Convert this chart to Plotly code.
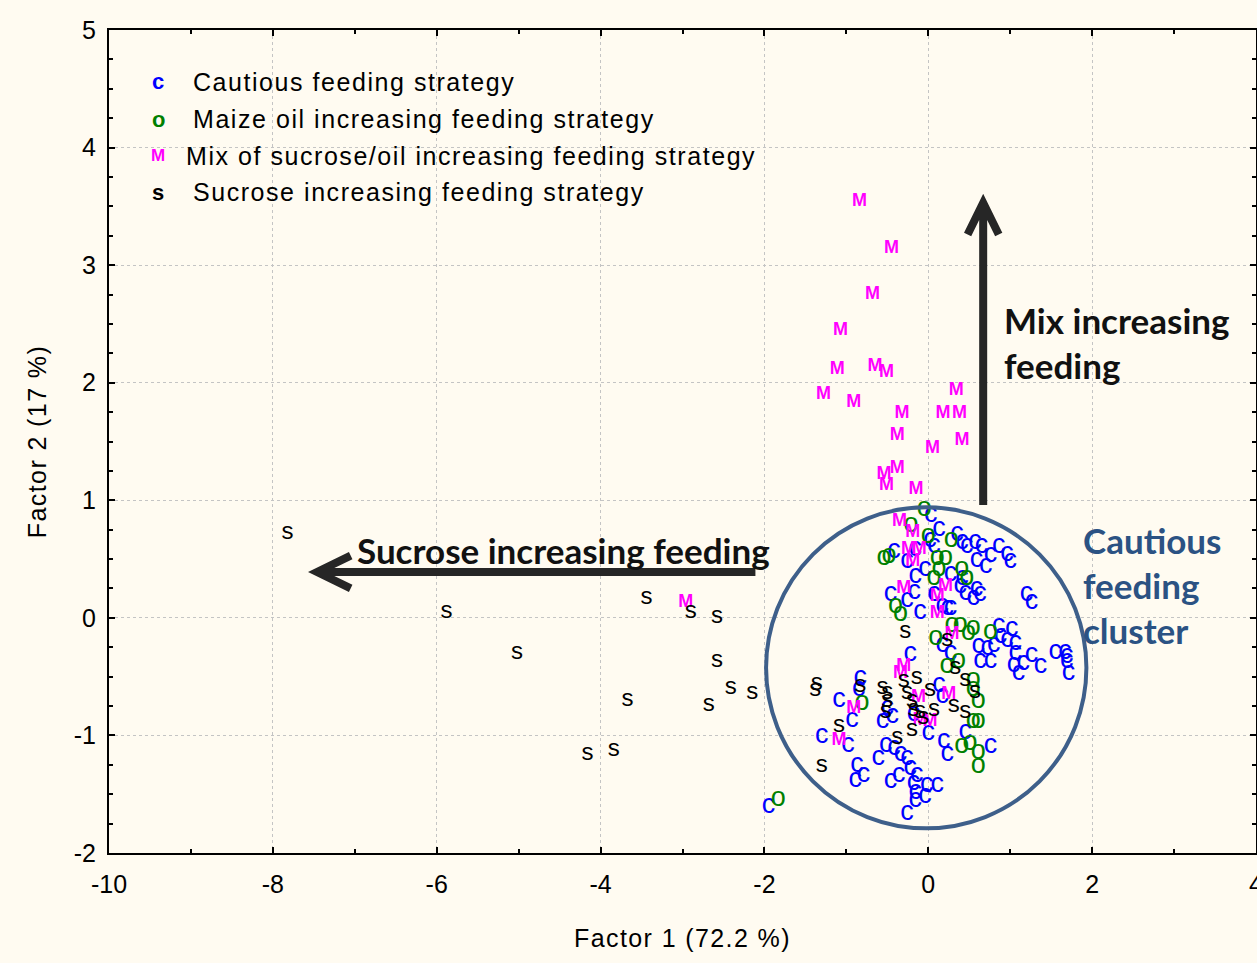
import plotly.graph_objects as go

# ---- data (Factor 1, Factor 2) ----
c_x = [0.03, 0.13, 0.02, 0.07, 0.35, 0.41, 0.47, 0.57, 0.65, 0.76, 0.86, 0.96, 1.00, 0.59, 0.70,
       -0.16, -0.42, -0.26, -0.04, -0.16, 0.27, 0.41, 0.39, 0.45, 0.59, 0.63, 0.55, 1.20, 1.26,
       -0.46, -0.26, -0.17, -0.10, 0.07, 0.17, 0.23, 0.27, 0.17, 0.27, 0.86, 1.02, 0.88, 0.96, 1.06,
       0.61, 0.72, 0.80, 0.63, 0.76, 1.06, 1.04, 1.10, 1.16, 1.26, 1.37, 1.55, 1.67, 1.69, 1.69, 1.71,
       -0.22, -0.83, -0.85, -1.09, -0.93, -1.30, -0.98, -0.56, -0.44, -0.50, 0.13, 0.17, -0.18, 0.00,
       0.45, 0.76, 0.19, 0.23, -0.52, -0.61, -0.42, -0.34, -0.26, -0.87, -0.79, -0.89, -0.46, -0.36,
       -0.22, -0.14, -0.18, -0.02, 0.11, -0.16, -0.04, -0.16, -0.26, -1.95]
c_y = [0.87, 0.75, 0.66, 0.61, 0.71, 0.64, 0.61, 0.64, 0.61, 0.53, 0.61, 0.54, 0.48, 0.49, 0.44,
       0.58, 0.57, 0.48, 0.41, 0.35, 0.37, 0.34, 0.27, 0.21, 0.24, 0.20, 0.17, 0.20, 0.13,
       0.20, 0.15, 0.22, 0.05, 0.20, 0.10, 0.08, 0.08, -0.23, -0.30, -0.07, -0.10, -0.16, -0.19, -0.22,
       -0.24, -0.26, -0.23, -0.37, -0.37, -0.30, -0.40, -0.47, -0.39, -0.32, -0.41, -0.29, -0.29, -0.33, -0.37, -0.47,
       -0.31, -0.51, -0.61, -0.70, -0.87, -1.01, -1.08, -0.88, -0.84, -0.77, -0.57, -0.67, -0.82, -0.98,
       -0.97, -1.09, -1.05, -1.16, -1.08, -1.19, -1.11, -1.16, -1.19, -1.25, -1.34, -1.38, -1.39, -1.34,
       -1.28, -1.34, -1.41, -1.42, -1.42, -1.48, -1.52, -1.55, -1.66, -1.60]

o_x = [-0.05, -0.21, 0.00, 0.28, -0.54, -0.48, 0.11, 0.21, 0.13, 0.07, 0.41, 0.47, -0.40, -0.34,
       0.29, 0.39, 0.55, 0.49, 0.09, 0.76, 0.23, 0.37, -0.81, 0.55, 0.55, 0.61, 0.55, 0.61, 0.41,
       0.51, 0.61, 0.61, -1.83]
o_y = [0.92, 0.79, 0.69, 0.66, 0.51, 0.52, 0.51, 0.51, 0.41, 0.34, 0.41, 0.34, 0.10, 0.03,
       -0.06, -0.06, -0.09, -0.13, -0.17, -0.12, -0.41, -0.37, -0.73, -0.53, -0.61, -0.71, -0.88, -0.88, -1.09,
       -1.07, -1.14, -1.26, -1.54]

m_x = [-0.84, -0.45, -0.68, -1.07, -1.11, -0.65, -0.51, -1.28, -0.91, -0.32, 0.34, 0.18, 0.38, -0.38,
       0.41, 0.05, -0.38, -0.54, -0.51, -0.15, -0.35, -0.19, -0.24, -0.11, -0.19, 0.21, -0.30, 0.11,
       0.11, 0.29, -0.34, -0.30, -0.91, -1.09, -0.12, 0.25, -0.10, 0.02, -2.96]
m_y = [3.54, 3.14, 2.75, 2.44, 2.11, 2.14, 2.09, 1.90, 1.83, 1.74, 1.93, 1.74, 1.74, 1.55,
       1.51, 1.44, 1.27, 1.22, 1.13, 1.09, 0.82, 0.73, 0.58, 0.58, 0.48, 0.27, 0.25, 0.18,
       0.04, -0.14, -0.47, -0.41, -0.77, -1.04, -0.68, -0.65, -0.87, -0.88, 0.13]

s_x = [-7.82, -5.88, -5.02, -3.44, -2.90, -2.58, -2.58, -2.41, -2.15, -2.68, -3.67, -3.84, -4.16,
       -0.28, 0.23, 0.33, -0.14, -1.36, -1.38, -1.09, -1.30, -0.56, -0.50, -0.50, -0.52, -0.30, -0.26,
       -0.20, 0.02, -0.18, -0.10, 0.07, -0.06, -0.20, -0.38, 0.31, 0.45, 0.45, 0.57, -0.83]
s_y = [0.72, 0.05, -0.30, 0.17, 0.05, 0.01, -0.37, -0.60, -0.64, -0.74, -0.70, -1.12, -1.16,
       -0.12, -0.19, -0.43, -0.51, -0.56, -0.61, -0.92, -1.26, -0.60, -0.64, -0.71, -0.80, -0.54, -0.64,
       -0.71, -0.61, -0.78, -0.80, -0.78, -0.85, -0.95, -1.02, -0.75, -0.80, -0.53, -0.63, -0.58]

legend_labels = ["Cautious feeding strategy", "Maize oil increasing feeding strategy",
                 "Mix of sucrose/oil increasing feeding strategy", "Sucrose increasing feeding strategy"]
legend_symbols = ["c", "o", "M", "s"]
colors = ["#0000ff", "#008000", "#ff00ff", "#000000"]

x_ticks = [-10, -8, -6, -4, -2, 0, 2, 4]
x_ticklabels = ["-10", "-8", "-6", "-4", "-2", "0", "2", "4"]
y_ticks = [-2, -1, 0, 1, 2, 3, 4, 5]
y_ticklabels = ["-2", "-1", "0", "1", "2", "3", "4", "5"]

BG = "#fffbf1"
FONT = "Liberation Sans, Arial, sans-serif"
BOLD = "Lato, Open Sans, sans-serif"


def spaced(t, px):
    return '<span style="letter-spacing:%spx">%s</span>' % (px, t)


fig = go.Figure()
groups = [(c_x, c_y, "c", colors[0], 27),
          (o_x, o_y, "o", colors[1], 27),
          (m_x, m_y, "<b>M</b>", colors[2], 18),
          (s_x, s_y, "s", colors[3], 24)]
for gx, gy, sym, col, size in groups:
    fig.add_trace(go.Scatter(x=gx, y=gy, mode="text", text=[sym] * len(gx),
                             textposition="middle center",
                             textfont=dict(family=FONT, size=size, color=col),
                             showlegend=False, hoverinfo="skip", cliponaxis=False))

annotations = []
# legend (manual)
leg_y = [4.56, 4.24, 3.93, 3.62]
for i, (lab, sym, col) in enumerate(zip(legend_labels, legend_symbols, colors)):
    annotations.append(dict(x=-9.40, y=leg_y[i], xref="x", yref="y", text="<b>%s</b>" % sym,
                            showarrow=False, font=dict(family=FONT, size=22 if sym != "M" else 17, color=col),
                            xanchor="center", yanchor="middle"))
    annotations.append(dict(x=-9.0 if sym != "M" else -9.08, y=leg_y[i], xref="x", yref="y",
                            text=spaced(lab, 1.55),
                            showarrow=False, font=dict(family=FONT, size=25, color="black"),
                            xanchor="left", yanchor="middle"))

annotations.append(dict(x=-4.45, y=0.58, xref="x", yref="y", text="<b>Sucrose increasing feeding</b>",
                        showarrow=False, font=dict(family=BOLD, size=35, color="#111111"),
                        xanchor="center", yanchor="middle"))
for txt, yy in [("Mix increasing", 2.534), ("feeding", 2.151)]:
    annotations.append(dict(x=0.90, y=yy, xref="x", yref="y", text="<b>%s</b>" % txt,
                            showarrow=False, font=dict(family=BOLD, size=35, color="#111111"),
                            xanchor="left", yanchor="middle"))
for txt, yy in [("Cautious", 0.663), ("feeding", 0.281), ("cluster", -0.102)]:
    annotations.append(dict(x=1.87, y=yy, xref="x", yref="y", text="<b>%s</b>" % txt,
                            showarrow=False, font=dict(family=BOLD, size=35, color="#2b5283"),
                            xanchor="left", yanchor="middle"))

shapes = [
    dict(type="circle", xref="x", yref="y", x0=-1.98, x1=1.93, y0=-1.79, y1=0.94,
         line=dict(color="#3e5f8a", width=4)),
    dict(type="path", xref="x", yref="y",
         path="M -2.11 0.39 L -7.46 0.39 M -7.05 0.53 L -7.46 0.39 L -7.05 0.25",
         line=dict(color="#262626", width=8)),
    dict(type="path", xref="x", yref="y",
         path="M 0.67 0.96 L 0.67 3.53 M 0.48 3.26 L 0.67 3.53 L 0.86 3.26",
         line=dict(color="#262626", width=8)),
]

axis_common = dict(showline=True, linecolor="black", linewidth=2, mirror="allticks",
                   ticks="inside", tickcolor="black", ticklen=6, tickwidth=1.5,
                   showgrid=True, gridcolor="#c4c4c4", gridwidth=1, griddash="3px,3px",
                   zeroline=False, ticklabeloverflow="allow", automargin=False,
                   tickfont=dict(family=FONT, size=25, color="black"))

fig.update_layout(
    width=1257, height=963,
    margin=dict(l=109, r=1, t=30, b=110),
    paper_bgcolor=BG, plot_bgcolor=BG,
    xaxis=dict(range=[-10, 4], tickmode="array", tickvals=x_ticks, ticktext=x_ticklabels,
               minor=dict(dtick=1, tick0=0, ticks="inside", ticklen=4, tickcolor="black", showgrid=False),
               title=dict(text=spaced("Factor 1 (72.2 %)", 1.4),
                          font=dict(family=FONT, size=25, color="black"), standoff=32),
               ticklabelstandoff=8,
               **axis_common),
    yaxis=dict(range=[-2, 5], tickmode="array", tickvals=y_ticks, ticktext=y_ticklabels,
               minor=dict(dtick=0.25, tick0=0, ticks="inside", ticklen=4, tickcolor="black", showgrid=False),
               title=dict(text=spaced("Factor 2 (17 %)", 1.4),
                          font=dict(family=FONT, size=25, color="black"), standoff=20),
               ticklabelstandoff=6,
               **axis_common),
    annotations=annotations,
    shapes=shapes,
)

fig.write_html("out.html", config={"displayModeBar": False},
               post_script="document.body.style.margin='0';")
